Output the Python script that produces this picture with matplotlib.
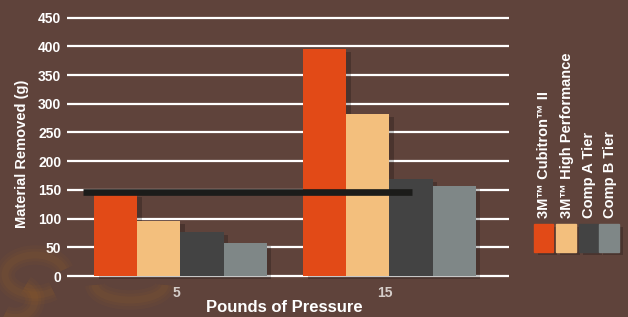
import matplotlib
matplotlib.use("Agg")
import matplotlib.pyplot as plt
import matplotlib.patheffects as pe
from matplotlib.patches import Rectangle, Arc
import numpy as np

# ── data ─────────────────────────────────────────────
pressures = ["5", "15"]
series_names = ["3M™ Cubitron™ II", "3M™ High Performance", "Comp A Tier", "Comp B Tier"]
cubitron = [143, 395]
high_perf = [96, 282]
comp_a = [77, 169]
comp_b = [57, 157]
reference_level = 147

COLORS = {
    "bg":     "#5f433b",
    "smudge": "#b8731f",
    "orange": "#e24a17",
    "tan":    "#f3bf7d",
    "dark":   "#434343",
    "gray":   "#7f8787",
    "line":   "#1c1c1a",
    "text":   "#ffffff",
    "tick":   "#d6ceca",
}
bar_colors = [COLORS["orange"], COLORS["tan"], COLORS["dark"], COLORS["gray"]]
FONT = ["Liberation Sans", "DejaVu Sans"]

W, H = 628, 317


def fx(x):
    return x / W


def fy(y):
    return (H - y) / H


fig = plt.figure(figsize=(W / 100, H / 100), dpi=100)
fig.patch.set_facecolor(COLORS["bg"])

# faint, blurry orange swirl in the lower-left of the backdrop
for lw, a in [(14, 0.05), (9, 0.06), (5, 0.07)]:
    for cx, cy, w, h, t1, t2 in [(35, 275, 60, 40, 20, 300), (130, 285, 70, 30, 180, 360),
                                 (15, 300, 40, 35, 250, 70)]:
        fig.add_artist(Arc((fx(cx), fy(cy)), w / W, h / H, theta1=t1, theta2=t2,
                           transform=fig.transFigure, color=COLORS["smudge"],
                           lw=lw, alpha=a))

ax = fig.add_axes([fx(67), fy(278.9), fx(509) - fx(67), (278.9 - 14.8) / H])
ax.set_facecolor("none")

x = np.arange(len(pressures))
width = 0.206
shadow = [pe.SimplePatchShadow(offset=(3, -2), shadow_rgbFace="black", alpha=0.22), pe.Normal()]
for i, (vals, col) in enumerate(zip([cubitron, high_perf, comp_a, comp_b], bar_colors)):
    ax.bar(x + (i - 1.5) * width, vals, width=width, color=col, zorder=3,
           path_effects=shadow)

ax.plot([-0.467, 1.108], [reference_level, reference_level], color=COLORS["line"],
        linewidth=4.8, solid_capstyle="butt", zorder=4)

ax.set_xlim(-0.543, 1.572)
ax.set_ylim(-5, 455)
ax.set_yticks(range(0, 451, 50))
ax.yaxis.grid(True, color="white", linewidth=1.6, zorder=0)
ax.set_axisbelow(True)
for s in ax.spines.values():
    s.set_visible(False)
ax.tick_params(axis="y", length=0, pad=4, labelcolor=COLORS["text"])
ax.tick_params(axis="x", length=0, pad=5, labelcolor=COLORS["tick"])
ax.set_xticks(x - 0.02)
ax.set_xticklabels(pressures)
for lab in ax.get_yticklabels():
    lab.set_family(FONT); lab.set_fontweight("bold"); lab.set_fontsize(10)
for lab in ax.get_xticklabels():
    lab.set_family(FONT); lab.set_fontweight("bold"); lab.set_fontsize(10)

fig.text(fx(284), fy(308), "Pounds of Pressure", ha="center", va="center",
         family=FONT, fontweight="bold", fontsize=12, color=COLORS["text"])
fig.text(fx(22), fy(154), "Material Removed (g)", ha="center", va="center", rotation=90,
         family=FONT, fontweight="bold", fontsize=10.5, color=COLORS["text"])

# legend: rotated labels above swatches
swatch_x = [(534, 553), (556, 576), (579, 598), (599, 619)]
for (x0, x1), name, col in zip(swatch_x, series_names, bar_colors):
    fig.add_artist(Rectangle((fx(x0), fy(252)), fx(x1) - fx(x0), (252 - 224) / H,
                             transform=fig.transFigure, color=col,
                             path_effects=shadow))
    fig.text(fx((x0 + x1) / 2 + 1), fy(218), name, rotation=90, ha="center", va="bottom",
             family=FONT, fontweight="bold", fontsize=10.5, color=COLORS["text"])

fig.savefig("out.png", dpi=100, facecolor=COLORS["bg"])
